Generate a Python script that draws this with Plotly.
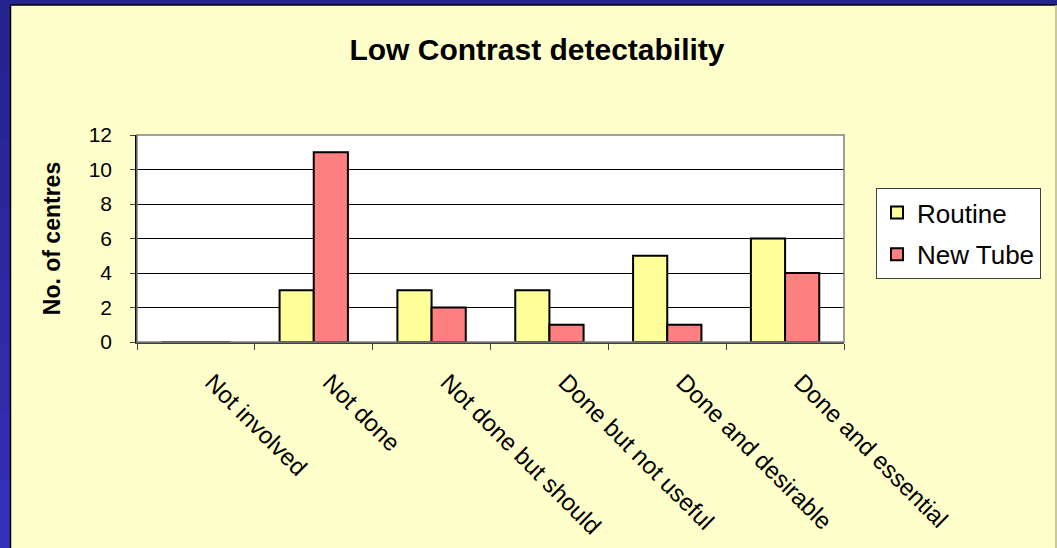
import plotly.graph_objects as go

categories = ["Not involved", "Not done", "Not done but should",
              "Done but not useful", "Done and desirable", "Done and essential"]
routine = [0, 3, 3, 3, 5, 6]
new_tube = [0, 11, 2, 1, 1, 4]
y_ticks = [0, 2, 4, 6, 8, 10, 12]

W, H = 1057, 548
L, R, T, B = 137, 844, 135, 342

fig = go.Figure()
fig.add_trace(go.Bar(name="Routine", x=categories, y=routine,
                     marker=dict(color="#FFFF99", line=dict(color="#000000", width=2)),
                     legendgroup="a"))
fig.add_trace(go.Bar(name="New Tube", x=categories, y=new_tube,
                     marker=dict(color="#FF8080", line=dict(color="#000000", width=2)),
                     legendgroup="b"))

font = "Arial, Liberation Sans, sans-serif"
fig.update_layout(
    width=W, height=H,
    margin=dict(l=L, r=W - R, t=T, b=H - B, pad=0, autoexpand=False),
    paper_bgcolor="#FFFFCC",
    plot_bgcolor="#FFFFFF",
    barmode="group", bargap=0.42, bargroupgap=0,
    font=dict(family=font, color="#000000", size=22),
    title=dict(text="<b>Low Contrast detectability</b>", x=(537) / W, xanchor="center",
               y=1 - 49 / H, yanchor="middle", font=dict(size=30, family=font)),
    legend=dict(x=(876 - L) / (R - L), xanchor="left", y=(B - 188) / (B - T), yanchor="top",
                bgcolor="#FFFFFF", bordercolor="#404040", borderwidth=1,
                font=dict(size=26, family=font), tracegroupgap=5,
                itemsizing="constant"),
    showlegend=True,
)
fig.update_xaxes(
    type="category", tickson="boundaries", ticks="outside", ticklen=6, tickcolor="#404040",
    showline=True, linecolor="#404040", linewidth=1.5, tickangle=45, automargin=False,
    ticklabelstandoff=15, ticklabelshift=16, tickfont=dict(size=24, family=font), showgrid=False,
)
fig.update_yaxes(
    range=[0, 12], tickvals=y_ticks, ticks="outside", ticklen=5, tickcolor="#404040",
    showline=True, linecolor="#000000", linewidth=1.5, showgrid=True, gridcolor="#000000",
    gridwidth=1, zeroline=False, ticklabelstandoff=14, tickfont=dict(size=21, family=font),
    automargin=False,
    title=dict(text="<b>No. of centres</b>", font=dict(size=23, family=font), standoff=22),
)

# plot-area border (gray top/right)
fig.add_shape(type="rect", xref="paper", yref="paper", x0=0, x1=1, y0=0, y1=1,
              line=dict(color="#808080", width=1.5), layer="above")

def px_x(p):
    return (p - L) / (R - L)

def px_y(p):
    return (B - p) / (B - T)

# blue frame (left and top) with gradient-like bands
bands = 8
for i in range(bands):
    y0p = 5 + (H - 5) * i / bands - 0.5
    y1p = 5 + (H - 5) * (i + 1) / bands + 0.5
    f = i / (bands - 1)
    col = "#%02X%02X%02X" % (0x26 + int(0x0C * f), 0x24 + int(0x0C * f), 0x8E + int(0x26 * f))
    fig.add_shape(type="rect", xref="paper", yref="paper",
                  x0=px_x(0), x1=px_x(10.5), y0=px_y(y1p), y1=px_y(y0p),
                  line=dict(width=0), fillcolor=col, layer="above")
fig.add_shape(type="rect", xref="paper", yref="paper",
              x0=px_x(0), x1=px_x(W), y0=px_y(5), y1=px_y(0),
              line=dict(width=0), fillcolor="#26248E", layer="above")
# black edge of yellow panel
fig.add_shape(type="line", xref="paper", yref="paper",
              x0=px_x(10.5), x1=px_x(W), y0=px_y(5), y1=px_y(5),
              line=dict(color="#000000", width=1.5), layer="above")
fig.add_shape(type="line", xref="paper", yref="paper",
              x0=px_x(10.5), x1=px_x(10.5), y0=px_y(H), y1=px_y(5),
              line=dict(color="#000000", width=1.5), layer="above")
fig.add_shape(type="line", xref="paper", yref="paper",
              x0=px_x(W - 1), x1=px_x(W - 1), y0=px_y(H), y1=px_y(5),
              line=dict(color="#B8B890", width=1.5), layer="above")

fig.write_html("out.html", config={"displayModeBar": False},
               post_script="document.body.style.margin='0';document.body.style.overflow='hidden';")
